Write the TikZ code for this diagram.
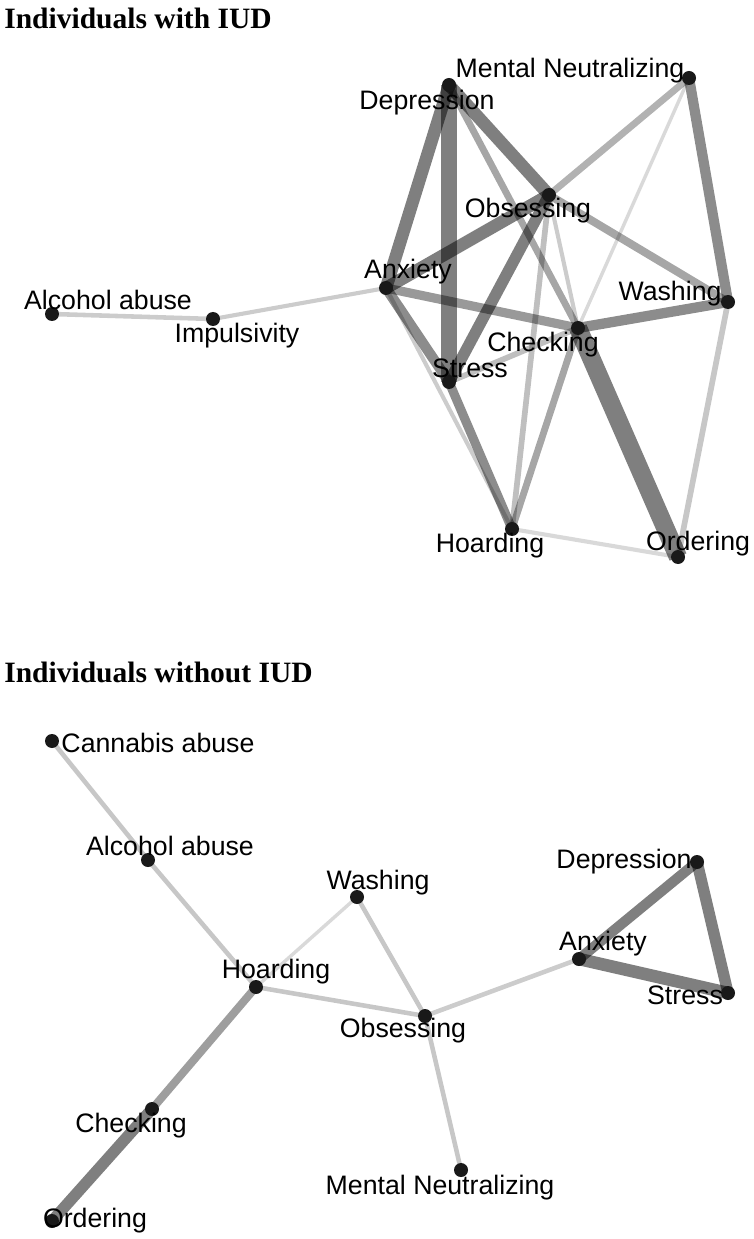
\documentclass[tikz,border=0pt]{standalone}
\usepackage{fontspec}
\setmainfont{Liberation Sans}
\newfontfamily\titlefont{Liberation Serif}
\usepackage{tikz}
\tikzset{
  edge/.style args={#1/#2}{line width=1.3*#1pt, draw=black, draw opacity=#2},
  dot/.style={circle, fill=black!90, inner sep=0pt, minimum size=0.28cm},
  lbl/.style={font=\fontsize{15.2}{17}\selectfont, inner sep=0pt},
  ttl/.style={font=\titlefont\bfseries\fontsize{16.8}{19}\selectfont, anchor=west, inner sep=0pt}
}

\begin{document}
\begin{tikzpicture}[x=0.02cm, y=-0.02cm]
  \useasboundingbox (0,0) rectangle (753,1239);

  % Titles
  \node[ttl] (t1) at (4,18) {Individuals with IUD};
  \node[ttl] (t2) at (4,672) {Individuals without IUD};

  % Top network positions
  \coordinate (dep) at (449,85);
  \coordinate (mn) at (689,78);
  \coordinate (obs) at (549,195);
  \coordinate (anx) at (386,288);
  \coordinate (wash) at (728,302);
  \coordinate (chk) at (578,328);
  \coordinate (str) at (449,382);
  \coordinate (alc) at (52,314);
  \coordinate (imp) at (213,319);
  \coordinate (hoa) at (512,529);
  \coordinate (ord) at (678,557);

  % Top network edges
  \draw[edge=7/0.5] (dep) -- (str);
  \draw[edge=5.5/0.5] (dep) -- (anx);
  \draw[edge=5.5/0.5] (dep) -- (obs);
  \draw[edge=3/0.35] (dep) -- (chk);
  \draw[edge=5.5/0.5] (anx) -- (obs);
  \draw[edge=4/0.4] (anx) -- (chk);
  \draw[edge=4.5/0.45] (anx) -- (str);
  \draw[edge=1.8/0.2] (anx) -- (hoa);
  \draw[edge=1.8/0.2] (anx) -- (imp);
  \draw[edge=2/0.2] (imp) -- (alc);
  \draw[edge=5/0.5] (str) -- (obs);
  \draw[edge=2.5/0.25] (str) -- (chk);
  \draw[edge=4/0.45] (str) -- (hoa);
  \draw[edge=3/0.3] (obs) -- (mn);
  \draw[edge=3.5/0.35] (obs) -- (wash);
  \draw[edge=1.8/0.2] (obs) -- (chk);
  \draw[edge=2.5/0.25] (obs) -- (hoa);
  \draw[edge=4.5/0.45] (mn) -- (wash);
  \draw[edge=1.5/0.15] (mn) -- (chk);
  \draw[edge=4.5/0.45] (chk) -- (wash);
  \draw[edge=3/0.35] (chk) -- (hoa);
  \draw[edge=8/0.5] (chk) -- (ord);
  \draw[edge=2.5/0.22] (wash) -- (ord);
  \draw[edge=1.8/0.15] (hoa) -- (ord);

  % Top network nodes and labels
  \foreach \n in {dep,mn,obs,anx,wash,chk,str,alc,imp,hoa,ord}
    \node[dot] (\n-d) at (\n) {};
  \node[lbl] (dep-l) at (427,103) {Depression};
  \node[lbl] (mn-l) at (570,71) {Mental Neutralizing};
  \node[lbl] (obs-l) at (528,211) {Obsessing};
  \node[lbl] (anx-l) at (408,272) {Anxiety};
  \node[lbl] (wash-l) at (670,294) {Washing};
  \node[lbl] (chk-l) at (543,345) {Checking};
  \node[lbl] (str-l) at (470,368) {Stress};
  \node[lbl] (alc-l) at (108,300) {Alcohol abuse};
  \node[lbl] (imp-l) at (237,336) {Impulsivity};
  \node[lbl] (hoa-l) at (490,546) {Hoarding};
  \node[lbl] (ord-l) at (698,544) {Ordering};

  % Bottom network positions
  \coordinate (can2) at (52,741);
  \coordinate (alc2) at (148,860);
  \coordinate (wash2) at (357,897);
  \coordinate (dep2) at (697,862);
  \coordinate (anx2) at (579,959);
  \coordinate (str2) at (728,993);
  \coordinate (hoa2) at (256,987);
  \coordinate (obs2) at (425,1016);
  \coordinate (chk2) at (152,1109);
  \coordinate (mn2) at (461,1170);
  \coordinate (ord2) at (52,1221);

  % Bottom network edges
  \draw[edge=2/0.22] (can2) -- (alc2);
  \draw[edge=2/0.22] (alc2) -- (hoa2);
  \draw[edge=1.5/0.15] (hoa2) -- (wash2);
  \draw[edge=2/0.22] (wash2) -- (obs2);
  \draw[edge=2/0.22] (hoa2) -- (obs2);
  \draw[edge=2/0.2] (obs2) -- (anx2);
  \draw[edge=2/0.22] (obs2) -- (mn2);
  \draw[edge=3.5/0.38] (hoa2) -- (chk2);
  \draw[edge=5/0.5] (chk2) -- (ord2);
  \draw[edge=4.5/0.5] (dep2) -- (anx2);
  \draw[edge=5.5/0.5] (anx2) -- (str2);
  \draw[edge=5/0.5] (dep2) -- (str2);

  % Bottom network nodes and labels
  \foreach \n in {can2,alc2,wash2,dep2,anx2,str2,hoa2,obs2,chk2,mn2,ord2}
    \node[dot] (\n-d) at (\n) {};
  \node[lbl] (can2-l) at (158,743) {Cannabis abuse};
  \node[lbl] (alc2-l) at (170,846) {Alcohol abuse};
  \node[lbl] (wash2-l) at (378,883) {Washing};
  \node[lbl] (dep2-l) at (624,862) {Depression};
  \node[lbl] (anx2-l) at (603,944) {Anxiety};
  \node[lbl] (str2-l) at (685,995) {Stress};
  \node[lbl] (hoa2-l) at (276,972) {Hoarding};
  \node[lbl] (obs2-l) at (403,1031) {Obsessing};
  \node[lbl] (chk2-l) at (131,1126) {Checking};
  \node[lbl] (mn2-l) at (440,1188) {Mental Neutralizing};
  \node[lbl] (ord2-l) at (95,1221) {Ordering};
\end{tikzpicture}
\end{document}
